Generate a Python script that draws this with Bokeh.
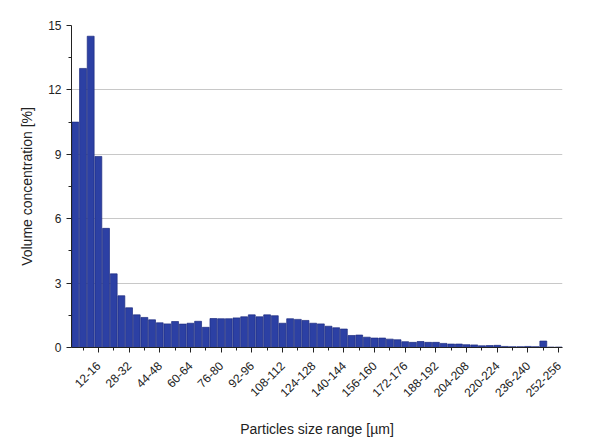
import math
from bokeh.plotting import figure
from bokeh.models import Range1d, FixedTicker, ColumnDataSource
from bokeh.embed import file_html
from bokeh.resources import INLINE

# ---- data ----
bin_lo = list(range(0, 256, 4))
bin_labels = [f"{a}-{a+4}" for a in bin_lo]
values = [10.5, 13.0, 14.5, 8.9, 5.55, 3.43, 2.41, 1.85, 1.52, 1.40,
          1.29, 1.15, 1.10, 1.21, 1.09, 1.13, 1.22, 0.94, 1.35, 1.34,
          1.34, 1.38, 1.43, 1.52, 1.43, 1.52, 1.48, 1.13, 1.34, 1.31,
          1.26, 1.13, 1.10, 0.99, 0.92, 0.86, 0.56, 0.58, 0.48, 0.44,
          0.44, 0.39, 0.36, 0.27, 0.24, 0.28, 0.24, 0.24, 0.19, 0.16,
          0.16, 0.13, 0.12, 0.08, 0.09, 0.10, 0.05, 0.04, 0.04, 0.05,
          0.04, 0.30, 0.02, 0.02]
label_every = 4
label_offset = 3
y_ticks = [0, 3, 6, 9, 12, 15]
y_minor = [1.5, 4.5, 7.5, 10.5, 13.5]

idx = list(range(len(values)))
src = ColumnDataSource(dict(x=idx, top=values, label=bin_labels))

FONT = "Liberation Sans"

p = figure(width=574, height=442, output_backend="svg", toolbar_location=None,
           x_range=Range1d(-0.5, len(values) - 0.5), y_range=Range1d(0, 15),
           min_border_left=71, min_border_right=12, min_border_top=25,
           min_border_bottom=95)
p.outline_line_color = None

p.vbar(x="x", top="top", width=0.9, bottom=0, source=src,
       fill_color="#2c40a4", line_color="#1c2b80", line_width=0.7)

major = [i for i in idx if i % label_every == label_offset]
minor = [i for i in idx if i % label_every == (label_offset + 2) % label_every]
p.xaxis.ticker = FixedTicker(ticks=major, minor_ticks=minor)
p.xaxis.major_label_overrides = {i: bin_labels[i] for i in major}
p.xaxis.major_label_orientation = math.pi / 4
p.yaxis.ticker = FixedTicker(ticks=y_ticks, minor_ticks=y_minor)

p.xgrid.visible = False
p.ygrid.grid_line_color = "#c8c8c8"
p.ygrid.grid_line_width = 1

for ax in (p.xaxis[0], p.yaxis[0]):
    ax.axis_line_color = "#222222"
    ax.axis_line_width = 1
    ax.major_tick_line_color = "#222222"
    ax.minor_tick_line_color = "#222222"
    ax.major_tick_out = 5
    ax.major_tick_in = 0
    ax.minor_tick_out = 3
    ax.minor_tick_in = 0
    ax.major_label_text_font = FONT
    ax.major_label_text_font_size = "12px"
    ax.major_label_text_color = "#222222"
    ax.axis_label_text_font = FONT
    ax.axis_label_text_font_size = "14px"
    ax.axis_label_text_font_style = "normal"
    ax.axis_label_text_color = "#222222"

p.xaxis.axis_label = "Particles size range [µm]"
p.yaxis.axis_label = "Volume concentration [%]"
p.xaxis.major_label_standoff = 11
p.yaxis.major_label_standoff = 5
p.xaxis.axis_label_standoff = 17
p.yaxis.axis_label_standoff = 10

open("out.html", "w").write(file_html(p, INLINE))
